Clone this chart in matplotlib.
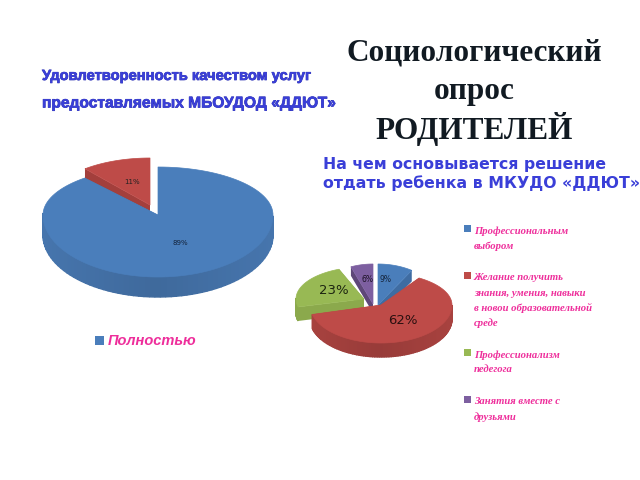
import matplotlib
matplotlib.use('Agg')
import matplotlib.pyplot as plt
import matplotlib.patheffects as pe
import numpy as np

# left chart
left_values = [89, 11]
left_colors = ['#4A7EBB', '#BE4B48']
left_side = ['#4675AD', '#A33F3C']
left_legend = 'Полностью'

# right chart
right_labels = [
    'Профессиональным\nвыбором',
    'Желание получить\nзнания, умения, навыки\nв новои образовательной\nсреде',
    'Профессионализм\nпедегога',
    'Занятия вместе с\nдрузьями',
]
right_values = [9, 62, 23, 6]
right_colors = ['#4A7EBB', '#BE4B48', '#98B954', '#7D5FA0']
right_side = ['#3F6CA2', '#A8423F', '#8BA94C', '#5E4778']

pink = '#EE2E9B'
blue_text = '#3A3FD8'

fig = plt.figure(figsize=(6.4, 4.8), dpi=100)
ax = fig.add_axes([0, 0, 1, 1])
ax.set_xlim(0, 640)
ax.set_ylim(480, 0)
ax.axis('off')


def ell(t, cx, cy, rx, ry_top, ry_bot):
    # t in degrees, clockwise from the top
    r = np.radians(t)
    c = np.cos(r)
    ry = np.where(c > 0, ry_top, ry_bot)
    return cx + rx * np.sin(r), cy - ry * c


def slice3d(start, end, cx, cy, rx, ry_top, ry_bot, depth, color, side, z):
    ts = np.linspace(start, end, 121)
    x, y = ell(ts, cx, cy, rx, ry_top, ry_bot)
    # cut faces
    for i in (0, -1):
        ax.fill([cx, x[i], x[i], cx], [cy, y[i], y[i] + depth, cy + depth],
                color=side, lw=0, zorder=z)
    # rim, shaded a little along its length
    for i in range(len(ts) - 1):
        if np.cos(np.radians(ts[i])) < 0.02:
            shade = 0.9 + 0.1 * abs(np.sin(np.radians(ts[i])))
            rgb = np.array(matplotlib.colors.to_rgb(side)) * shade
            ax.fill([x[i], x[i + 1], x[i + 1], x[i]],
                    [y[i], y[i + 1], y[i + 1] + depth, y[i] + depth],
                    color=rgb, lw=1.0, zorder=z)
    ax.fill(np.r_[cx, x], np.r_[cy, y], color=color, lw=0.5, zorder=z + 0.5)


# left pie
stops = np.cumsum([0] + left_values) * 3.6
slice3d(stops[1], stops[2], 150, 205, 102, 47, 47, 11, left_colors[1], left_side[1], 2)
slice3d(stops[0], stops[1], 158, 215, 115, 48, 62, 20, left_colors[0], left_side[0], 3)
ax.text(132, 182, f'{left_values[1]}%', fontsize=5, ha='center', va='center', color='#222222', zorder=6)
ax.text(180, 243, f'{left_values[0]}%', fontsize=5, ha='center', va='center', color='#14233a', zorder=6)

# right pie
stops = np.cumsum([0] + right_values) * 3.6
slice3d(stops[3], stops[4], 373, 304, 60, 40, 42, 9, right_colors[3], right_side[3], 2)
slice3d(stops[0], stops[1], 378, 305, 63, 41, 41, 11, right_colors[0], right_side[0], 2.5)
slice3d(stops[2], stops[3], 364, 299, 68, 32, 32, 14, right_colors[2], right_side[2], 3)
slice3d(stops[1], stops[2], 381, 305, 71, 32, 38, 14, right_colors[1], right_side[1], 4)
ax.text(386, 279, f'{right_values[0]}%', fontsize=5.5, ha='center', va='center', color='#14233a', zorder=6)
ax.text(403, 320, f'{right_values[1]}%', fontsize=9.5, ha='center', va='center', color='#2a1010', zorder=6)
ax.text(334, 290, f'{right_values[2]}%', fontsize=9.5, ha='center', va='center', color='#1c2410', zorder=6)
ax.text(368, 279, f'{right_values[3]}%', fontsize=5.5, ha='center', va='center', color='#1a1024', zorder=6)

# headings
for line, y in zip(['Социологический', 'опрос', 'РОДИТЕЛЕЙ'], [53, 92, 129]):
    ax.text(474, y, line, family='Liberation Serif', fontsize=22.5, fontweight='bold',
            ha='center', va='center', color='#111a22')

ax.text(42, 76, 'Удовлетворенность качеством услуг', family='Liberation Sans', fontsize=10.6,
        fontweight='bold', ha='left', va='center', color=blue_text,
        path_effects=[pe.withStroke(linewidth=0.5, foreground='#2a2fb0')])
ax.text(42, 103, 'предоставляемых МБОУДОД «ДДЮТ»', family='Liberation Sans', fontsize=11.2,
        fontweight='bold', ha='left', va='center', color=blue_text,
        path_effects=[pe.withStroke(linewidth=0.5, foreground='#2a2fb0')])

ax.text(323, 164, 'На чем основывается решение', family='DejaVu Sans', fontsize=11.3,
        fontweight='bold', ha='left', va='center', color=blue_text)
ax.text(323, 183, 'отдать ребенка в МКУДО «ДДЮТ»', family='DejaVu Sans', fontsize=11.3,
        fontweight='bold', ha='left', va='center', color=blue_text)

# left legend
ax.fill([95, 104, 104, 95], [336, 336, 345, 345], color=left_colors[0], lw=0)
ax.text(108, 341, left_legend, family='Liberation Sans', fontsize=10.5, fontweight='bold',
        fontstyle='italic', ha='left', va='center', color=pink)

# right legend
line_step = 15
tops = [231, 278, 355, 402]
for label, color, top in zip(right_labels, right_colors, tops):
    ax.fill([464, 471, 471, 464], [top - 6, top - 6, top + 1, top + 1], color=color, lw=0)
    for k, line in enumerate(label.split('\n')):
        ax.text(474, top + k * line_step, line, family='Liberation Serif', fontsize=7.7,
                fontweight='bold', fontstyle='italic', ha='left', va='center', color=pink)

fig.savefig('out.png', dpi=100)
